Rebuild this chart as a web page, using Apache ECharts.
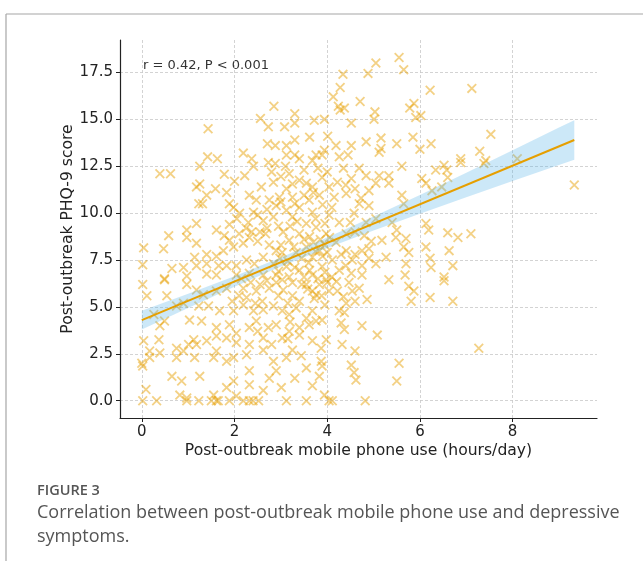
<!DOCTYPE html>
<html><head><meta charset="utf-8">
<script src="https://cdn.jsdelivr.net/npm/echarts@6/dist/echarts.min.js"></script>
<style>html,body{margin:0;padding:0;background:#fff}#c{width:643px;height:561px}</style>
</head><body><div id="c"></div><script>
// ---- data ----
const xTitle = 'Post-outbreak mobile phone use (hours/day)';
const yTitle = 'Post-outbreak PHQ-9 score';
const annotation = 'r = 0.42, P < 0.001';
const captionLabel = 'FIGURE 3';
const captionLine1 = 'Correlation between post-outbreak mobile phone use and depressive';
const captionLine2 = 'symptoms.';
const xTicks = [0, 2, 4, 6, 8];
const yTicks = [0, 2.5, 5, 7.5, 10, 12.5, 15, 17.5];
const fitX = [0, 9.33];
const fitY = [4.3, 13.9];
const bandX = [0, 1, 2, 3, 4, 5, 6, 7, 8, 9, 9.33];
const bandLow = [3.8, 4.95, 6.08, 7.15, 8.14, 9.08, 9.97, 10.85, 11.71, 12.56, 12.85];
const bandHigh = [4.8, 5.71, 6.64, 7.63, 8.7, 9.82, 10.97, 12.15, 13.35, 14.56, 14.95];
const scatterPoints = [
[1.43,14.5],[2.85,15.7],[2.56,15.05],[2.73,14.6],[3.08,14.6],[2.71,13.7],[2.88,13.6],[3.12,13.6],[2.19,13.2],[1.42,13.0],[1.63,12.9],
[5.55,18.3],[5.05,18.0],[5.65,17.65],[4.88,17.45],[4.34,17.4],[6.22,16.55],[4.28,16.7],[4.13,16.2],[4.71,15.95],[4.24,15.7],[4.37,15.6],[4.28,15.5],
[5.87,15.85],[5.78,15.6],[5.03,15.4],[5.01,15.0],[5.91,15.1],[6.02,15.2],[4.52,14.8],[3.94,15.0],[3.72,14.95],[3.30,15.3],[3.30,14.8],[4.01,14.1],
[3.62,14.05],[3.3,13.9],[4.19,13.6],[4.52,13.6],[4.84,13.8],[5.16,14.0],[5.16,13.45],[5.5,13.7],[5.85,14.05],[6.24,13.7],[6.0,13.4],[3.94,13.35],
[3.76,13.1],[3.3,13.1],[4.45,13.1],
[7.12,16.65],[7.53,14.2],[7.29,13.3],[6.88,12.9],[7.42,12.8],[8.1,12.9],
[1.25,12.5],[0.39,12.1],[0.62,12.1],[1.78,12.07],[2.0,11.7],[2.41,12.5],[2.37,12.9],[2.73,12.7],[2.88,12.65],[2.22,12.0],[2.84,11.65],[1.25,11.55],
[1.18,11.4],[1.59,11.3],[1.40,10.96],[1.83,11.1],[1.23,10.5],[1.31,10.5],[2.58,11.4],[2.32,10.96],[2.47,10.7],[2.75,10.7],[2.97,10.85],[1.98,10.3],
[2.11,10.0],[2.41,10.05],[2.62,9.6],[2.84,9.8],[1.89,9.4],[1.18,9.45],[0.97,9.1],[0.97,8.7],[1.18,8.4],[0.58,8.8],[0.47,8.1],[0.04,8.15],[0.02,7.25],
[1.61,9.1],[1.78,8.8],[1.98,8.2],[1.89,8.55],[2.19,8.4],[2.37,9.0],[2.32,8.7],[2.67,8.9],[2.75,8.3],[2.9,8.0],[1.76,8.0],[1.61,7.7],[1.40,7.8],
[1.14,7.65],[0.9,7.1],[0.65,7.05],[0.49,6.5],[0.97,6.65],[1.18,7.2],[1.40,7.3],[1.66,7.2],[1.83,7.2],[2.04,7.2],[2.26,7.5],[2.43,7.3],[2.62,7.65],
[2.84,7.3],[2.32,6.8],[2.62,6.7],[2.9,6.7],[2.04,6.7],[1.61,6.7],[1.40,6.75],[1.89,10.5],
[3.12,13.1],[3.4,12.9],[3.68,12.8],[3.89,13.1],[4.26,13.0],[5.12,13.25],[5.61,12.5],[6.34,12.3],[6.13,11.6],[6.04,11.85],[6.26,11.2],[6.47,11.4],
[5.61,10.96],[5.65,10.5],[5.33,11.6],[5.05,11.6],[4.84,12.0],[5.12,12.0],[5.33,12.0],[4.69,12.4],[4.52,11.85],[4.22,11.65],[3.89,11.9],[4.04,11.4],
[3.68,11.4],[3.4,11.75],[3.18,12.1],[3.12,11.3],[3.25,10.85],[3.61,10.7],[3.83,10.96],[4.15,10.85],[4.41,11.05],[4.73,10.8],[4.9,10.4],[4.69,10.5],
[5.05,9.7],[4.84,9.5],[5.4,9.5],[5.5,9.1],[5.48,8.7],[5.7,8.65],[6.13,9.45],[6.19,9.1],[6.13,8.2],[6.22,7.6],[6.24,7.1],[5.65,8.2],[5.76,7.9],
[5.27,7.65],[5.7,7.3],[5.68,6.7],[5.18,8.55],[4.9,8.1],[4.75,8.0],[5.05,7.3],[4.75,7.2],[4.41,8.0],[4.54,7.5],[4.26,6.95],[4.52,6.8],[4.75,6.7],
[3.89,7.15],[3.68,6.7],[3.4,6.95],[3.12,7.15],[3.18,6.6],[4.11,7.5],[4.19,8.45],[4.41,8.9],[3.98,8.9],[3.76,9.25],[3.55,9.45],[3.25,9.8],[3.12,10.15],
[3.4,8.9],[3.18,8.55],[3.55,8.2],[3.83,8.0],[3.33,7.9],[3.03,7.9],[3.68,7.65],[4.04,9.9],[4.26,9.5],[3.68,10.05],[3.4,10.3],[4.58,10.0],
[6.52,12.55],[6.58,12.3],[6.6,11.9],[6.88,12.7],[7.38,12.65],[9.33,11.5],[6.6,8.95],[6.82,8.7],[7.1,8.9],[6.63,8.0],[6.71,7.2],[6.52,6.6],
[0.02,6.2],[0.49,6.45],[0.11,5.6],[0.54,5.6],[0.97,6.2],[1.18,5.9],[1.33,5.65],[1.61,5.85],[1.83,6.0],[0.9,5.2],[0.75,5.05],[1.23,5.05],[1.44,5.05],
[1.68,4.8],[1.98,4.8],[2.19,5.1],[2.41,4.8],[2.62,4.85],[2.84,5.05],[2.19,6.0],[2.47,5.85],[2.75,6.0],[2.95,5.6],[2.26,5.5],[0.49,4.25],[0.39,4.0],
[0.26,4.6],[1.03,4.3],[1.29,4.25],[1.61,3.9],[1.89,4.05],[2.04,3.6],[2.32,3.9],[2.47,4.25],[2.73,3.9],[2.9,4.05],[2.62,3.35],[2.32,3.0],[2.04,3.1],
[1.83,3.35],[1.61,3.45],[1.40,3.2],[1.18,3.0],[1.12,3.25],[1.01,3.0],[0.75,2.8],[0.9,2.65],[0.39,2.55],[0.17,2.65],[0.04,3.2],[0.0,2.0],[0.02,1.85],
[0.17,2.3],[0.37,3.25],[0.75,2.3],[1.14,2.3],[1.55,2.3],[1.61,2.65],[1.83,2.1],[1.98,2.3],[2.26,2.45],[2.62,2.7],[2.84,2.1],[2.9,1.6],[2.75,1.2],
[2.32,1.6],[1.98,1.05],[2.32,0.85],[2.62,0.55],[0.65,1.3],[0.86,1.05],[1.25,1.3],[0.09,0.6],[0.02,0.0],[0.32,0.0],[0.82,0.3],[0.97,0.15],[0.97,0.0],
[1.23,0.0],[1.55,0.3],[1.5,0.0],[1.61,0.0],[1.65,0.0],[1.89,0.0],[2.19,0.0],[2.32,0.0],[2.4,0.0],[2.52,0.0],[2.04,0.25],[1.83,0.7],
[3.03,6.45],[3.25,5.6],[3.68,5.85],[3.76,5.65],[3.83,6.2],[4.04,5.85],[4.22,5.85],[4.47,6.3],[4.69,6.0],[4.86,5.4],[4.54,5.85],[4.41,5.2],[4.26,4.8],
[4.37,4.7],[4.3,4.15],[4.37,3.8],[4.75,4.0],[5.08,3.5],[4.32,3.0],[4.6,2.65],[4.52,1.9],[4.58,1.5],[4.62,1.1],[5.55,2.0],[5.5,1.05],[5.33,6.45],
[5.76,6.1],[5.87,5.85],[5.81,5.3],[6.22,5.5],[3.55,6.2],[3.33,4.95],[3.68,4.8],[3.89,4.3],[3.76,4.25],[3.55,4.4],[3.18,4.6],[3.03,4.8],[3.4,3.9],
[3.61,4.05],[3.18,3.7],[3.03,3.35],[3.68,3.2],[3.98,3.25],[3.87,2.8],[3.25,2.7],[3.12,2.3],[3.44,2.4],[3.55,1.75],[3.87,2.1],[3.89,1.85],[3.83,1.3],
[3.3,1.2],[3.68,0.8],[3.01,0.7],[3.94,0.3],[3.12,0.0],[3.55,0.0],[4.04,0.0],[4.11,0.0],[4.82,0.0],[3.98,6.45],
[6.52,6.4],[6.71,5.3],[7.27,2.8],
[2.95,9.3],[3.05,9.0],[3.2,9.3],[3.35,9.55],[3.5,8.6],[3.62,8.75],[3.7,8.45],[3.85,8.6],[3.95,8.3],[4.05,8.7],[3.0,8.3],[3.28,8.2],[3.45,7.6],
[3.6,7.35],[3.75,7.95],[3.9,7.7],[4.0,7.9],[3.15,7.45],[2.98,7.6],[3.3,7.1],[3.5,6.6],[3.62,6.95],[3.8,6.5],[3.95,6.85],[4.1,6.6],[2.95,6.9],
[3.25,6.3],[3.45,6.2],[3.58,5.95],[3.72,5.45],[3.88,5.6],[3.95,5.1],[3.4,5.3],[3.15,5.2],[3.05,5.9],[2.9,6.3],[2.7,6.4],[2.55,6.2],[2.35,6.3],
[2.15,6.5],[2.6,5.3],[2.45,5.2],[2.1,5.6],[1.95,5.3],[2.7,9.2],[2.55,9.0],[2.5,8.5],[2.25,9.2],[2.1,8.9],[2.05,9.7],[2.3,9.5],[2.5,9.9],[2.7,10.2],
[2.9,10.4],[3.0,10.6],[3.3,10.5],[3.5,10.95],[3.7,11.1],[3.55,11.6],[3.25,11.55],[3.0,11.95],[2.8,12.2],[3.1,12.5],[3.5,12.3],[3.8,12.4],[4.0,12.2],
[4.35,12.4],[4.4,11.5],[4.6,11.3],[4.9,11.2],[4.1,10.3],[3.9,10.45],[3.75,9.7],[3.95,9.45],[4.5,9.5],[4.6,9.0],[4.8,8.8],[4.95,8.5],[4.3,7.8],
[4.6,7.8],[4.9,7.6],[4.4,7.2],[4.0,6.3],[4.2,6.35],[4.35,5.55],[4.6,5.3],[3.15,3.3],[3.4,3.5],[2.8,3.0],[2.5,3.7],[3.2,4.2]
];

// ---- chart ----
const chart = echarts.init(document.getElementById('c'), null, {renderer: 'canvas'});
const axisFont = 'DejaVu Sans';
const textColor = '#222';
const xMark = 'path://M0,1.3L1.3,0L10,8.7L8.7,10ZM8.7,0L10,1.3L1.3,10L0,8.7Z';
const gridLineStyle = {type: [3, 2], color: '#c8c8c8', width: 0.8};

const option = {
  animation: false,
  backgroundColor: '#ffffff',
  grid: {left: 120, top: 40, width: 477, height: 378},
  xAxis: {
    type: 'value', min: -0.47, max: 9.82,
    axisLine: {show: true, onZero: false, lineStyle: {color: textColor, width: 1.2}},
    axisTick: {show: true, inside: false, length: 4, customValues: xTicks, lineStyle: {color: textColor, width: 1}},
    axisLabel: {customValues: xTicks, margin: 7, fontFamily: axisFont, fontSize: 15, color: textColor},
    splitLine: {show: false},
    name: xTitle, nameLocation: 'middle', nameGap: 25, nameMoveOverlap: false,
    nameTextStyle: {fontFamily: axisFont, fontSize: 15.6, color: textColor}
  },
  yAxis: {
    type: 'value', min: -0.92, max: 19.23,
    axisLine: {show: true, onZero: false, lineStyle: {color: textColor, width: 1.2}},
    axisTick: {show: true, inside: false, length: 4, customValues: yTicks, lineStyle: {color: textColor, width: 1}},
    axisLabel: {customValues: yTicks, margin: 7, fontFamily: axisFont, fontSize: 15, color: textColor,
      formatter: v => Number(v).toFixed(1)},
    splitLine: {show: false},
    name: yTitle, nameLocation: 'middle', nameGap: 44, nameRotate: 90, nameMoveOverlap: false,
    nameTextStyle: {fontFamily: axisFont, fontSize: 15.6, color: textColor}
  },
  series: [
    {
      type: 'scatter', data: [], z: 0, silent: true,
      markLine: {
        silent: true, z: 0, symbol: ['none', 'none'], label: {show: false},
        lineStyle: gridLineStyle, animation: false,
        data: xTicks.map(v => ({xAxis: v})).concat(yTicks.map(v => ({yAxis: v})))
      }
    },
    {
      type: 'scatter', z: 2, silent: true,
      data: scatterPoints,
      symbol: xMark, symbolSize: 10,
      itemStyle: {color: 'rgba(230,159,0,0.6)'}
    },
    {
      type: 'custom', z: 3, silent: true,
      data: bandX.map((x, i) => [x, bandLow[i], bandHigh[i]]),
      encode: {x: 0, y: [1, 2]},
      renderItem: (params, api) => {
        if (params.dataIndex !== 0) return null;
        const pts = [];
        for (let i = 0; i < bandX.length; i++) pts.push(api.coord([bandX[i], bandHigh[i]]));
        for (let i = bandX.length - 1; i >= 0; i--) pts.push(api.coord([bandX[i], bandLow[i]]));
        return {type: 'polygon', shape: {points: pts}, style: {fill: 'rgba(86,180,233,0.3)'}};
      }
    },
    {
      type: 'line', z: 4, silent: true, symbol: 'none',
      data: fitX.map((x, i) => [x, fitY[i]]),
      lineStyle: {color: '#E69F00', width: 2}
    }
  ],
  graphic: [
    {type: 'line', silent: true, shape: {x1: 6, y1: 14, x2: 643, y2: 14}, style: {stroke: '#a6a6a6', lineWidth: 1.2}},
    {type: 'line', silent: true, shape: {x1: 6, y1: 14, x2: 6, y2: 561}, style: {stroke: '#a6a6a6', lineWidth: 1.2}},
    {type: 'text', silent: true, left: 143, top: 59,
      style: {text: annotation, font: '13px "DejaVu Sans"', fill: '#333'}},
    {type: 'text', silent: true, left: 37, top: 483,
      style: {text: captionLabel, font: '600 14.5px "Open Sans"', fill: '#555'}},
    {type: 'text', silent: true, left: 37, top: 504,
      style: {text: captionLine1, font: '18px "Open Sans"', fill: '#555'}},
    {type: 'text', silent: true, left: 37, top: 528,
      style: {text: captionLine2, font: '18px "Open Sans"', fill: '#555'}}
  ]
};
chart.setOption(option);
</script></body></html>
